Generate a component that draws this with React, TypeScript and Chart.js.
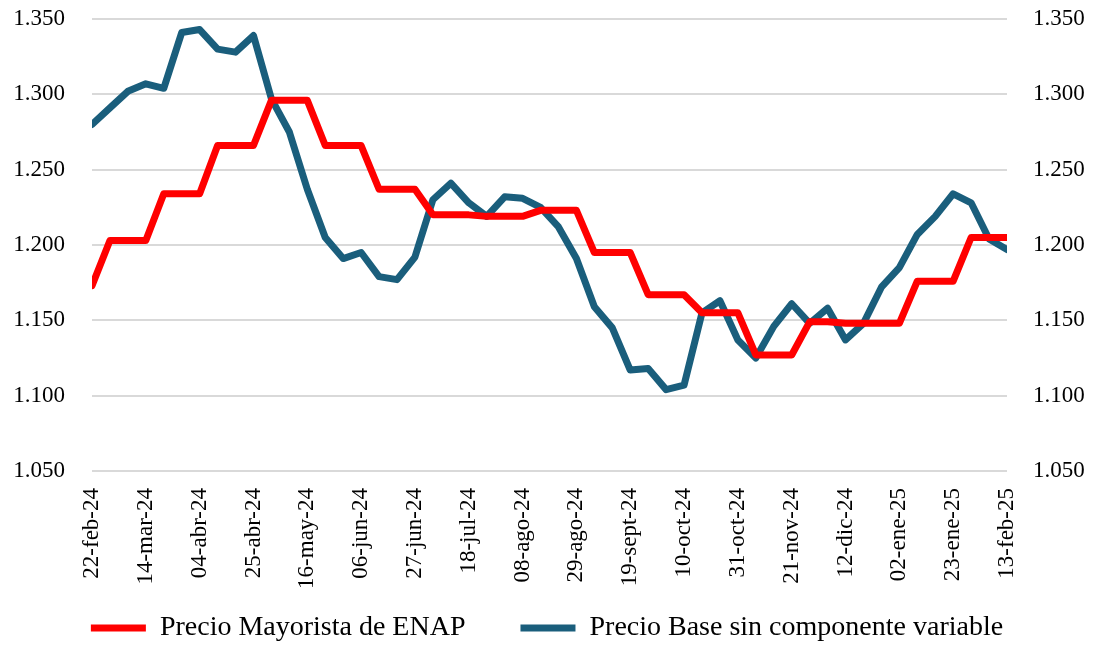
import React, { useEffect, useRef } from "react";
import { Chart, registerables } from "chart.js";

Chart.register(...registerables);

const weekLabels: string[] = [
  "22-feb-24", "29-feb-24", "07-mar-24", "14-mar-24", "21-mar-24", "28-mar-24",
  "04-abr-24", "11-abr-24", "18-abr-24", "25-abr-24", "02-may-24", "09-may-24",
  "16-may-24", "23-may-24", "30-may-24", "06-jun-24", "13-jun-24", "20-jun-24",
  "27-jun-24", "04-jul-24", "11-jul-24", "18-jul-24", "25-jul-24", "01-ago-24",
  "08-ago-24", "15-ago-24", "22-ago-24", "29-ago-24", "05-sept-24", "12-sept-24",
  "19-sept-24", "26-sept-24", "03-oct-24", "10-oct-24", "17-oct-24", "24-oct-24",
  "31-oct-24", "07-nov-24", "14-nov-24", "21-nov-24", "28-nov-24", "05-dic-24",
  "12-dic-24", "19-dic-24", "26-dic-24", "02-ene-25", "09-ene-25", "16-ene-25",
  "23-ene-25", "30-ene-25", "06-feb-25", "13-feb-25",
];

const enapPrices: number[] = [
  1173, 1203, 1203, 1203, 1234, 1234, 1234, 1266, 1266, 1266,
  1296, 1296, 1296, 1266, 1266, 1266, 1237, 1237, 1237, 1220,
  1220, 1220, 1219, 1219, 1219, 1223, 1223, 1223, 1195, 1195,
  1195, 1167, 1167, 1167, 1155, 1155, 1155, 1127, 1127, 1127,
  1149, 1149, 1148, 1148, 1148, 1148, 1176, 1176, 1176, 1205,
  1205, 1205,
];

const basePrices: number[] = [
  1280, 1291, 1302, 1307, 1304, 1341, 1343, 1330, 1328, 1339,
  1297, 1275, 1237, 1205, 1191, 1195, 1179, 1177, 1192, 1230,
  1241, 1228, 1219, 1232, 1231, 1225, 1212, 1191, 1159, 1145,
  1117, 1118, 1104, 1107, 1155, 1163, 1137, 1125, 1146, 1161,
  1148, 1158, 1137, 1148, 1172, 1185, 1207, 1219, 1234, 1228,
  1204, 1197,
];

const seriesNames: string[] = [
  "Precio Mayorista de ENAP",
  "Precio Base sin componente variable",
];

const yMin = 1050;
const yMax = 1350;
const yStep = 50;
const labelEvery = 3;

const FONT = "'Liberation Serif', 'Times New Roman', serif";

function fmtThousands(v: number): string {
  const n = Math.round(v);
  const th = Math.floor(n / 1000);
  const rest = n % 1000;
  return th > 0 ? `${th}.${String(rest).padStart(3, "0")}` : String(rest);
}

export default function App() {
  const canvasRef = useRef<HTMLCanvasElement | null>(null);

  useEffect(() => {
    document.body.style.margin = "0";
    const canvas = canvasRef.current;
    if (!canvas) return;

    const yTicks = {
      color: "#000000",
      font: { family: FONT, size: 23 },
      stepSize: yStep,
      callback: (v: any) => fmtThousands(Number(v)),
    };

    const chart = new Chart(canvas, {
      type: "line",
      data: {
        labels: weekLabels,
        datasets: [
          {
            label: seriesNames[0],
            data: enapPrices,
            borderColor: "#FF0000",
            backgroundColor: "#FF0000",
            borderWidth: 7,
            pointRadius: 0,
            tension: 0,
            borderCapStyle: "round",
            borderJoinStyle: "round",
            clip: 0,
            yAxisID: "y",
          },
          {
            label: seriesNames[1],
            data: basePrices,
            borderColor: "#1A5E7C",
            backgroundColor: "#1A5E7C",
            borderWidth: 7,
            pointRadius: 0,
            tension: 0,
            borderCapStyle: "round",
            borderJoinStyle: "round",
            clip: 0,
            yAxisID: "y",
          },
        ],
      },
      options: {
        responsive: false,
        animation: false,
        layout: { padding: { top: 19, bottom: -6, left: 0, right: 0 } },
        plugins: {
          tooltip: { enabled: false },
          legend: {
            position: "bottom",
            align: "center",
            labels: {
              color: "#000000",
              font: { family: FONT, size: 28 },
              usePointStyle: true,
              pointStyle: "line",
              pointStyleWidth: 55,
              padding: 55,
            },
          },
        },
        scales: {
          x: {
            type: "category",
            offset: false,
            grid: { display: false, drawTicks: false },
            border: { display: false },
            ticks: {
              autoSkip: false,
              maxRotation: 90,
              minRotation: 90,
              padding: 17,
              color: "#000000",
              font: { family: FONT, size: 23 },
              callback: function (_v: any, i: number) {
                return i % labelEvery === 0 ? weekLabels[i] : "";
              },
            },
            afterFit: (s: any) => {
              s.height = 88;
              s.paddingLeft = 0;
              s.paddingRight = 0;
              s._computeLabelArea = () => undefined;
            },
          },
          y: {
            position: "left",
            min: yMin,
            max: yMax,
            grid: { color: "#D9D9D9", lineWidth: 2, drawTicks: false },
            border: { display: false },
            ticks: { ...yTicks, padding: 27 },
            afterFit: (s: any) => {
              s.width = 92;
              s.paddingTop = 0;
              s.paddingBottom = 0;
            },
          },
          y2: {
            position: "right",
            min: yMin,
            max: yMax,
            grid: { display: false, drawTicks: false },
            border: { display: false },
            ticks: { ...yTicks, padding: 26 },
            afterFit: (s: any) => {
              s.width = 87;
              s.paddingTop = 0;
              s.paddingBottom = 0;
            },
          },
        },
      },
    } as any);

    return () => {
      chart.destroy();
    };
  }, []);

  return (
    <div style={{ width: 1094, height: 646 }}>
      <canvas ref={canvasRef} width={1094} height={646} style={{ display: "block" }} />
    </div>
  );
}
